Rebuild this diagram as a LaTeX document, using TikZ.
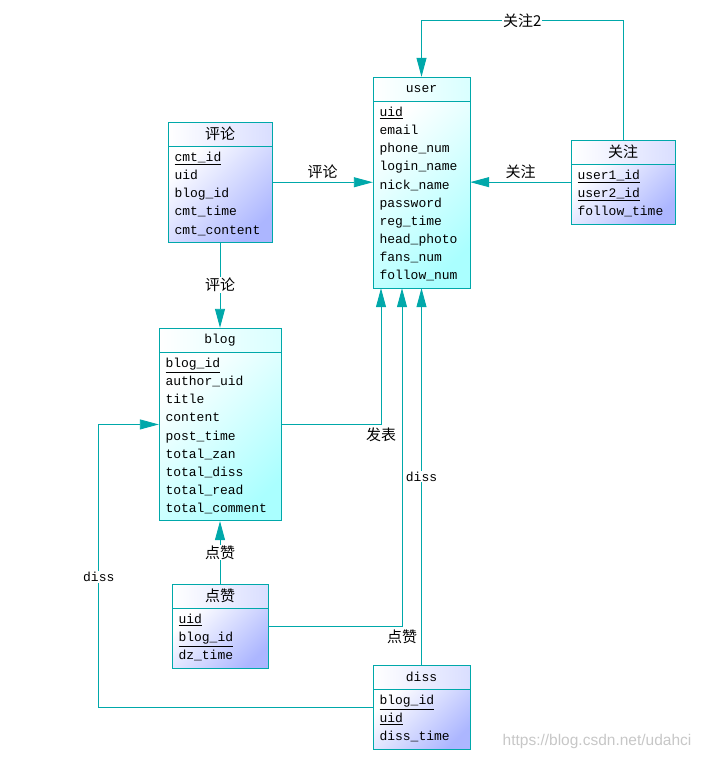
\documentclass[tikz,border=0pt]{standalone}
\usepackage{fontspec}
\setmonofont{Liberation Mono}
\setsansfont{Liberation Sans}
\newfontfamily\cjk{Noto Sans CJK SC}
\usetikzlibrary{arrows.meta,positioning,fit}
\definecolor{lnc}{RGB}{0,168,170}
\definecolor{cyb}{RGB}{170,255,255}
\definecolor{lvb}{RGB}{172,182,255}
\newcommand{\zhtxt}[1]{{\cjk\fontsize{15}{18}\selectfont #1}}

\begin{document}
\begin{tikzpicture}[x=1pt,y=-1pt]
\tikzstyle{thead}=[draw=lnc,line width=0.9pt,inner sep=0pt,outer sep=0pt,
minimum height=24pt,font=\ttfamily\fontsize{13}{16}\selectfont]
\tikzstyle{tbody}=[draw=lnc,line width=0.9pt,inner xsep=6.5pt,inner ysep=3pt,
outer sep=0pt,align=left,font=\ttfamily\fontsize{13}{18.1}\selectfont]
\tikzstyle{cyanc}=[top color=white,bottom color=cyb,shading angle=45]
\tikzstyle{bluec}=[top color=white,bottom color=lvb,shading angle=45]
\tikzstyle{cyanh}=[left color=white,right color=cyb!45]
\tikzstyle{blueh}=[left color=white,right color=lvb!45]
\tikzstyle{rel}=[draw=lnc,line width=0.9pt,->,>={Triangle[length=19pt,width=10pt]}]
\tikzstyle{lbl}=[fill=white,inner sep=1pt,font=\ttfamily\fontsize{13}{16}\selectfont]
\useasboundingbox (0,0) rectangle (701,760);

% user
\node[thead,cyanh,minimum width=97pt,anchor=north west] at (373,77) (userh) {user};
\node[tbody,cyanc,text width=84pt,below=0pt of userh] (userb) {\strut\underline{uid}\\
\strut email\\ \strut phone\_num\\ \strut login\_name\\ \strut nick\_name\\
\strut password\\ \strut reg\_time\\ \strut head\_photo\\ \strut fans\_num\\
\strut follow\_num};
\node[fit=(userh)(userb),inner sep=0pt] (user) {};

% pinglun
\node[thead,blueh,minimum width=104pt,anchor=north west] at (168,122) (klh) {\zhtxt{评论}};
\node[tbody,bluec,text width=91pt,below=0pt of klh] (klb) {\strut\underline{cmt\_id}\\
\strut uid\\ \strut blog\_id\\ \strut cmt\_time\\ \strut cmt\_content};
\node[fit=(klh)(klb),inner sep=0pt] (kl) {};

% guanzhu
\node[thead,blueh,minimum width=104pt,anchor=north west] at (571,140) (gzh) {\zhtxt{关注}};
\node[tbody,bluec,text width=91pt,below=0pt of gzh] (gzb) {\strut\underline{user1\_id}\\
\strut\underline{user2\_id}\\ \strut follow\_time};
\node[fit=(gzh)(gzb),inner sep=0pt] (gz) {};

% blog
\node[thead,cyanh,minimum width=122pt,anchor=north west] at (159,328) (blogh) {blog};
\node[tbody,cyanc,text width=109pt,below=0pt of blogh] (blogb) {\strut\underline{blog\_id}\\
\strut author\_uid\\ \strut title\\ \strut content\\ \strut post\_time\\
\strut total\_zan\\ \strut total\_diss\\ \strut total\_read\\ \strut total\_comment};
\node[fit=(blogh)(blogb),inner sep=0pt] (blog) {};

% dianzan
\node[thead,blueh,minimum width=96pt,anchor=north west] at (172,584) (dzh) {\zhtxt{点赞}};
\node[tbody,bluec,text width=83pt,below=0pt of dzh] (dzb) {\strut\underline{uid}\\
\strut\underline{blog\_id}\\ \strut dz\_time};
\node[fit=(dzh)(dzb),inner sep=0pt] (dz) {};

% diss
\node[thead,blueh,minimum width=97pt,anchor=north west] at (373,665) (dissh) {diss};
\node[tbody,bluec,text width=84pt,below=0pt of dissh] (dissb) {\strut\underline{blog\_id}\\
\strut\underline{uid}\\ \strut diss\_time};
\node[fit=(dissh)(dissb),inner sep=0pt] (diss) {};

\coordinate (u1) at ([xshift=-40.5pt]user.south);
\coordinate (u2) at ([xshift=-19.5pt]user.south);

\draw[rel] (gz.north) -- ++(0,-119) -| node[lbl,pos=0.25] {\zhtxt{关注2}} (user.north);
\draw[rel] (gz.west) -- node[above] {\zhtxt{关注}} (gz.west -| user.east);
\draw[rel] (kl.east) -- node[above] {\zhtxt{评论}} (kl.east -| user.west);
\draw[rel] (kl.south) -- node[lbl] {\zhtxt{评论}} (blog.north);
\draw[rel] (blog.east) -| node[below] {\zhtxt{发表}} (u1);
\draw[rel] (dz.east) -| node[below] {\zhtxt{点赞}} (u2);
\draw[rel] (diss.north) -- node[lbl] {diss} (user.south);
\draw[rel] (dz.north) -- node[lbl] {\zhtxt{点赞}} (blog.south);
\draw[rel] (diss.west) -- ++(-274,0) |- node[lbl,pos=0.23] {diss} (blog.west);

\node[text=black!22,font=\sffamily\fontsize{15.5}{18}\selectfont] at (597,741) (wm) {https://blog.csdn.net/udahci};
\end{tikzpicture}
\end{document}
